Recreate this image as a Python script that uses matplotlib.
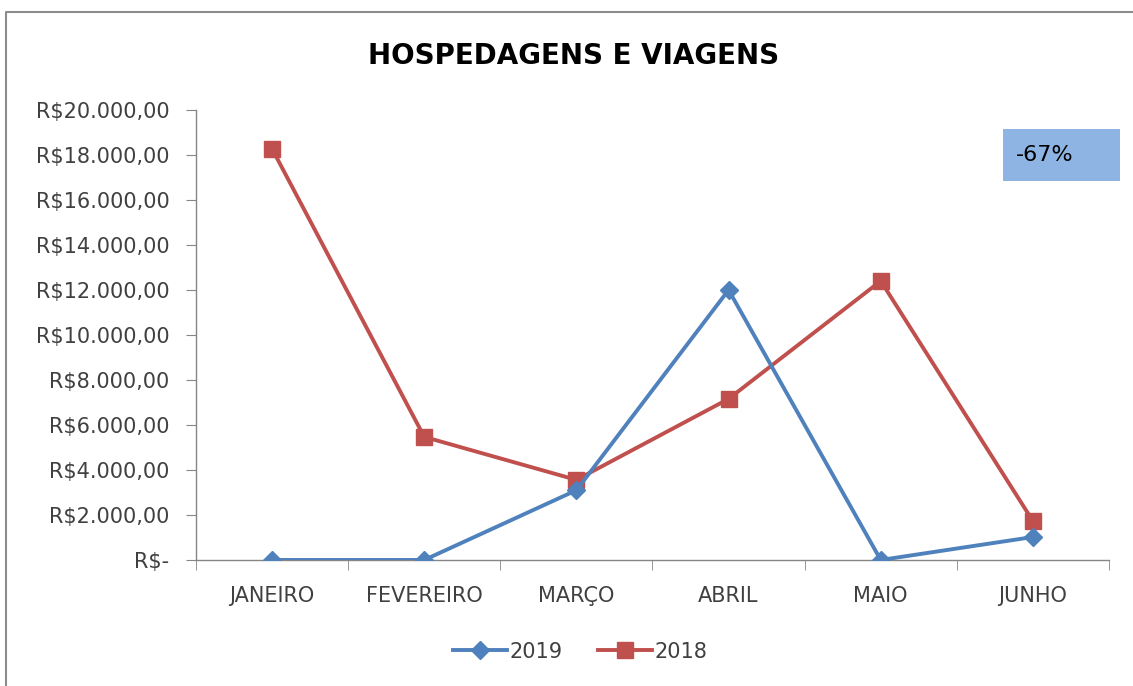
import matplotlib
matplotlib.use("Agg")
import matplotlib.pyplot as plt
from matplotlib.lines import Line2D
from matplotlib.patches import Rectangle
from matplotlib.ticker import FuncFormatter, MultipleLocator

plt.rcParams["font.family"] = ["DejaVu Sans"]

# dados
meses = ["JANEIRO", "FEVEREIRO", "MARÇO", "ABRIL", "MAIO", "JUNHO"]
valores_2019 = [0, 0, 3100, 12000, 0, 1020]
valores_2018 = [18270, 5470, 3560, 7160, 12400, 1730]
variacao = "-67%"

AZUL = "#4F81BD"
VERMELHO = "#C0504D"
TEXTO = "#404040"


def formata_real(v, pos=None):
    if v == 0:
        return "R$-"
    s = f"{v:,.2f}"
    s = s.replace(",", "X").replace(".", ",").replace("X", ".")
    return "R$" + s


fig = plt.figure(figsize=(11.33, 6.86), dpi=100)
ax = fig.add_axes([0.173, 0.1837, 0.8058, 0.656])

x = range(len(meses))
ax.plot(x, valores_2019, color=AZUL, linewidth=2.8, marker="D", markersize=9,
        label="2019", zorder=3)
ax.plot(x, valores_2018, color=VERMELHO, linewidth=2.8, marker="s", markersize=11,
        label="2018", zorder=2)

ax.set_xlim(-0.5, len(meses) - 0.5)
ax.set_ylim(0, 20000)
ax.yaxis.set_major_locator(MultipleLocator(2000))
ax.yaxis.set_major_formatter(FuncFormatter(formata_real))
ax.set_xticks(list(x))
ax.set_xticklabels(meses)
ax.set_xticks([i - 0.5 for i in range(len(meses) + 1)], minor=True)

for lado in ["top", "right"]:
    ax.spines[lado].set_visible(False)
for lado in ["left", "bottom"]:
    ax.spines[lado].set_color("#868686")
    ax.spines[lado].set_linewidth(1.0)

ax.tick_params(axis="y", direction="out", length=7, color="#868686",
               labelsize=15, labelcolor=TEXTO, pad=12)
ax.tick_params(axis="x", which="major", length=0, labelsize=15,
               labelcolor=TEXTO, pad=19)
ax.tick_params(axis="x", which="minor", direction="out", length=7, color="#868686")

fig.text(0.506, 0.918, "HOSPEDAGENS E VIAGENS", ha="center", va="center",
         fontsize=20, fontweight="bold", color="black")

# caixa de variação
fig.patches.append(Rectangle((1003 / 1133, 1 - 181 / 686), 117 / 1133, 52 / 686,
                             transform=fig.transFigure, facecolor="#8EB4E3",
                             edgecolor="none"))
fig.text(1016 / 1133, 1 - 155 / 686, variacao, ha="left", va="center",
         fontsize=16, color="black")

# borda
fig.lines.append(Line2D([6 / 1133, 6 / 1133, 1.0], [0, 1 - 12 / 686, 1 - 12 / 686],
                        transform=fig.transFigure, color="#8C8C8C", linewidth=1.5))

leg = fig.legend(loc="center", bbox_to_anchor=(0.512, 0.05), ncol=2, frameon=False,
                 fontsize=15, handlelength=2.6, columnspacing=1.7, handletextpad=0.1)
for t in leg.get_texts():
    t.set_color(TEXTO)

fig.savefig("out.png", dpi=100)
